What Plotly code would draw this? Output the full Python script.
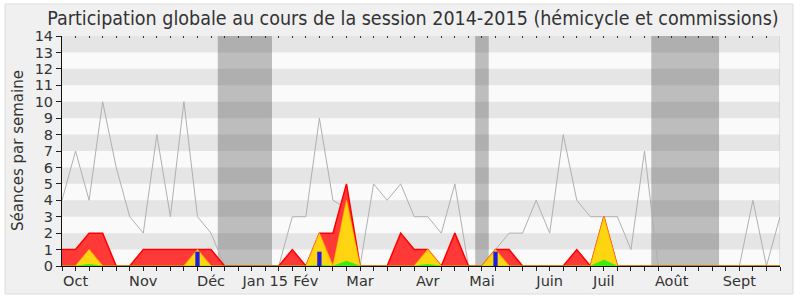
import plotly.graph_objects as go

weeks = list(range(54))
total = [4, 7, 4, 10, 6, 3, 2, 8, 3, 10, 3, 2, 0, 0, 0, 0, 0, 3, 3, 9, 4, 3.5, 0, 5, 4, 5, 3, 3,
         2, 5, 0, 0, 1, 2, 2, 4, 2, 8, 4, 3, 3, 3, 1, 7, 0, 0, 0, 0, 0, 0, 0, 4, 0, 3]
red = [1, 1, 2, 2, 0, 0, 1, 1, 1, 1, 1, 1, 0, 0, 0, 0, 0, 1, 0, 2, 2, 5, 0, 0, 0, 2, 1, 1,
       0, 2, 0, 0, 1, 1, 0, 0, 0, 0, 1, 0, 3, 0, 0, 0, 0, 0, 0, 0, 0, 0, 0, 0, 0, 0]
yellow = [0, 0, 1, 0, 0, 0, 0, 0, 0, 0, 1, 0, 0, 0, 0, 0, 0, 0, 0, 2, 0, 4, 0, 0, 0, 0, 0, 1,
          0, 0, 0, 0, 1, 0, 0, 0, 0, 0, 0, 0, 3, 0, 0, 0, 0, 0, 0, 0, 0, 0, 0, 0, 0, 0]
green = [0, 0, 0.1, 0, 0, 0, 0, 0, 0, 0, 0, 0, 0, 0, 0, 0, 0, 0, 0, 0.05, 0, 0.3, 0, 0, 0, 0, 0, 0.1,
         0, 0, 0, 0, 0, 0, 0, 0, 0, 0, 0, 0, 0.37, 0, 0, 0, 0, 0, 0, 0, 0, 0, 0, 0, 0, 0]
blue_weeks = [10, 19, 32]
blue_vals = [0.87, 0.87, 0.87]
month_labels = ["Oct", "Nov", "Déc", "Jan 15", "Fév", "Mar", "Avr", "Mai", "Juin", "Juil", "Août", "Sept"]
month_weeks = [1, 6, 11, 15, 18, 22, 27, 31, 36, 40, 45, 50]
vac_start = [11.5, 30.5, 43.5]
vac_end = [15.5, 31.5, 48.5]
y_ticks = list(range(15))

TFONT = "DejaVu Sans Condensed, DejaVu Sans, sans-serif"
FONT = "DejaVu Sans, sans-serif"
L, R, T, B = 62, 20, 36, 34
W, H = 800, 300
pw, ph = W - L - R, H - T - B

fig = go.Figure()
fig.add_trace(go.Scatter(x=weeks, y=total, mode="lines", line=dict(color="#b0b0b0", width=1),
                         hoverinfo="skip"))
fig.add_trace(go.Scatter(x=weeks, y=red, mode="lines", fill="tozeroy",
                         fillcolor="rgb(255,56,56)", line=dict(color="#ff0000", width=1.5)))
fig.add_trace(go.Scatter(x=weeks, y=yellow, mode="lines", fill="tozeroy",
                         fillcolor="rgb(255,212,16)", line=dict(color="rgba(255,200,0,0.6)", width=1.2)))
fig.add_trace(go.Scatter(x=weeks, y=green, mode="lines", fill="tozeroy",
                         fillcolor="rgb(60,235,20)", line=dict(color="rgb(60,235,20)", width=0.5)))
# blue bars as thick vertical segments (drawn above the areas)
bx, by = [], []
for w, v in zip(blue_weeks, blue_vals):
    bx += [w, w, None]
    by += [0, v, None]
fig.add_trace(go.Scatter(x=bx, y=by, mode="lines", line=dict(color="rgb(30,30,225)", width=4.3),
                         hoverinfo="skip"))
# invisible trace for top tick axis
fig.add_trace(go.Scatter(x=[0, 53], y=[0, 0], xaxis="x2", mode="lines",
                         line=dict(color="rgba(0,0,0,0)"), hoverinfo="skip"))

shapes = []
x0p, x1p = (5 - L) / pw, (793 - L) / pw
y0p, y1p = 1 - (294 - T) / ph, 1 - (4 - T) / ph
shapes.append(dict(type="rect", xref="paper", yref="paper", x0=x0p, x1=x1p, y0=y0p, y1=y1p,
                   fillcolor="#f0f0f0", line=dict(color="#dcdcdc", width=1), layer="below"))
shapes.append(dict(type="rect", xref="x", yref="y", x0=0, x1=53, y0=0, y1=14,
                   fillcolor="#fafafa", line=dict(width=0), layer="below"))
for k in range(1, 14, 2):
    shapes.append(dict(type="rect", xref="x", yref="y", x0=0, x1=53, y0=k, y1=k + 1,
                       fillcolor="#e5e5e5", line=dict(width=0), layer="below"))
for s, e in zip(vac_start, vac_end):
    shapes.append(dict(type="rect", xref="x", yref="y", x0=s, x1=e, y0=0, y1=14,
                       fillcolor="rgba(50,50,50,0.3)", line=dict(width=0), layer="below"))
shapes.append(dict(type="line", xref="x", yref="y", x0=53, x1=53, y0=0, y1=14,
                   line=dict(color="#c8c8c8", width=1), layer="below"))

ticktext = []
for w in weeks:
    ticktext.append(month_labels[month_weeks.index(w)] if w in month_weeks else "")

fig.update_layout(
    width=W, height=H, margin=dict(l=L, r=R, t=T, b=B, autoexpand=False),
    paper_bgcolor="white", plot_bgcolor="rgba(0,0,0,0)",
    showlegend=False,
    font=dict(family=FONT, color="#333333", size=14),
    title=dict(text="Participation globale au cours de la session 2014-2015 (hémicycle et commissions)",
               x=413 / W, xref="container", xanchor="center", y=1 - 18 / H, yref="container",
               yanchor="middle", font=dict(family=TFONT, size=19.5, color="#333333")),
    xaxis=dict(range=[0, 53], tickmode="array", tickvals=weeks, ticktext=ticktext, automargin=False,
               ticks="outside", ticklen=4, tickcolor="#222", showline=True, linecolor="#111",
               linewidth=1, showgrid=False, zeroline=False, ticklabelstandoff=-2,
               tickfont=dict(size=14.5, color="#333")),
    xaxis2=dict(range=[0, 53], overlaying="x", side="top", tickmode="array", tickvals=weeks,
                ticks="inside", ticklen=2, tickcolor="#333", showticklabels=False, showgrid=False,
                zeroline=False, showline=False, automargin=False),
    yaxis=dict(range=[0, 14], tickmode="array", tickvals=y_ticks, ticks="outside", ticklen=5,
               tickcolor="#222", showline=True, linecolor="#111", linewidth=1, showgrid=False,
               zeroline=False, automargin=False, tickfont=dict(size=14.5, color="#333")),
    shapes=shapes,
    annotations=[dict(text="Séances par semaine", xref="paper", yref="paper",
                      x=(18 - L) / pw, y=0.5, xanchor="center", yanchor="middle", textangle=-90,
                      showarrow=False, font=dict(family=FONT, size=15, color="#333333"))],
)
fig.write_html("out.html")
